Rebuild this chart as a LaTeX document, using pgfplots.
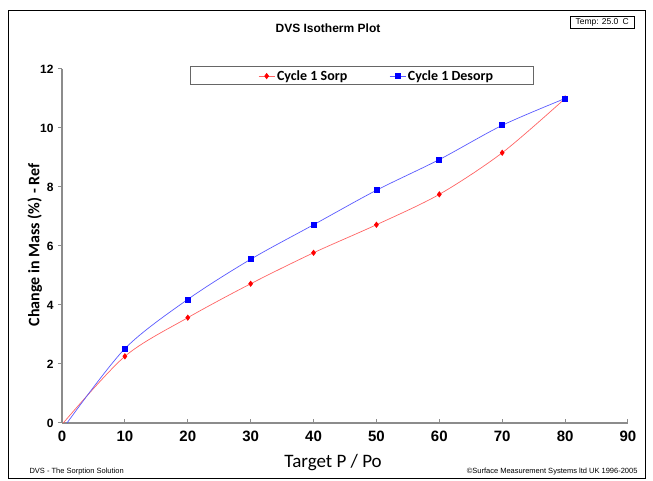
\documentclass[border=0pt]{standalone}
\usepackage{pgfplots}
\pgfplotsset{compat=1.18}
\usepackage{fontspec}
\setmainfont{Liberation Sans}
\newfontfamily\carlito{Carlito}
\definecolor{axgray}{RGB}{140,140,140}
\definecolor{sorp}{RGB}{255,0,0}
\definecolor{sorpline}{RGB}{255,100,100}
\definecolor{desorp}{RGB}{0,0,255}
\definecolor{desorpline}{RGB}{90,90,255}
\begin{document}
\begin{tikzpicture}[x=1pt,y=1pt]
\useasboundingbox (0,0) rectangle (653,481);
\draw[black,line width=0.9pt] (8,3) rectangle (645,471);
\begin{axis}[
  at={(62pt,58pt)}, anchor=south west,
  scale only axis, width=566pt, height=354pt,
  xmin=0, xmax=90, ymin=0, ymax=12,
  axis lines*=left,
  axis line style={axgray, line width=1.3pt},
  xtick={0,10,...,90}, ytick={0,2,...,12},
  x tick style={axgray, line width=1pt},
  y tick style={axgray, line width=1pt},
  xtick align=inside, ytick align=outside,
  major tick length=4pt,
  /pgf/number format/assume math mode=true,
  xticklabel style={font=\fontsize{15}{15}\selectfont\bfseries, yshift=-4pt},
  yticklabel style={font=\fontsize{12}{12}\selectfont\bfseries, xshift=-1pt},
  xlabel={Target P / Po},
  xlabel style={font=\carlito\fontsize{19}{19}\selectfont, at={(axis description cs:0.479,-0.113)}, anchor=center},
  ylabel={Change in Mass (\%) - Ref},
  ylabel style={font=\carlito\bfseries\fontsize{16}{16}\selectfont, at={(axis description cs:-0.048,0.503)}, anchor=center, rotate=0},
  legend columns=2,
  legend style={draw=none, fill=none, at={(axis description cs:0.556,0.98)}, anchor=center,
    font=\carlito\bfseries\fontsize{14}{14}\selectfont,
    /tikz/every even column/.append style={column sep=40pt},
    nodes={inner xsep=2pt}},
  legend cell align=left,
  legend image code/.code={\draw[mark repeat=2,mark phase=2,#1,mark indices={2}] plot coordinates {(0pt,0pt) (8pt,0pt) (16pt,0pt)};},
  clip=false,
]
\addplot[sorpline, line width=0.7pt, smooth, mark=diamond*, mark size=2.6pt, mark options={fill=sorp, draw=sorp}, mark indices={2,3,4,5,6,7,8,9}]
  coordinates {(0.2,0) (10,2.26) (20,3.57) (30,4.72) (40,5.77) (50,6.72) (60,7.75) (70,9.16) (80,11.0)};
\addlegendentry{Cycle 1 Sorp}
\addplot[desorpline, line width=0.7pt, smooth, mark=square*, mark size=2.5pt, mark options={fill=desorp, draw=desorp}, mark indices={2,3,4,5,6,7,8,9}]
  coordinates {(0.8,0) (10,2.52) (20,4.19) (30,5.55) (40,6.72) (50,7.89) (60,8.93) (70,10.09) (80,11.0)};
\addlegendentry{Cycle 1 Desorp}
\end{axis}
\draw[gray!80!black, line width=1pt] (190,396) rectangle (533,414);
\node[font=\bfseries\fontsize{12}{12}\selectfont] at (328,453) {DVS Isotherm Plot};
\draw[black, line width=0.5pt] (570,453) rectangle (634,465);
\node[font=\fontsize{8.5}{8.5}\selectfont, anchor=west] at (572,459) {Temp: 25.0\enspace C};
\node[font=\fontsize{7.5}{7.5}\selectfont, anchor=west] at (26,9) {DVS - The Sorption Solution};
\node[font=\fontsize{7.5}{7.5}\selectfont, anchor=east] at (641,9) {\textcopyright Surface Measurement Systems ltd UK 1996-2005};
\end{tikzpicture}
\end{document}
